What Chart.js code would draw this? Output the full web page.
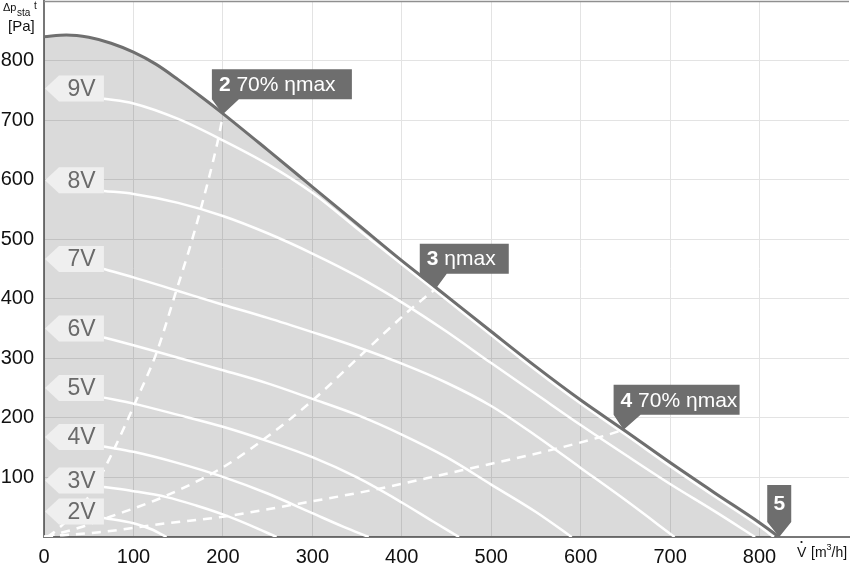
<!DOCTYPE html>
<html>
<head>
<meta charset="utf-8">
<script src="https://cdn.jsdelivr.net/npm/chart.js@4.4.1/dist/chart.umd.min.js"></script>
<style>
  html, body { margin: 0; padding: 0; background: #fff; }
  #wrap { width: 850px; height: 565px; position: relative; }
</style>
</head>
<body>
<div id="wrap"><canvas id="chart"></canvas></div>
<script>
// axis ranges / ticks
const xMax = 900;
const yMax = 900;
const xTickStep = 100;
const yTickStep = 100;

// max. characteristic (envelope), [V m3/h, dp Pa]
const envelope = [[0,840],[25,843],[50,839],[75,829],[100,814],[125,794],[150,768],[175,740],[200,711],[250,650],[300,588],[350,526],[400,464],[438,419],[500,345],[550,286],[600,230],[650,178],[700,125],[750,74],[800,24],[822,0]];

// control voltage curves
const curve9V = [[67,736],[100,728],[150,702],[200,666],[250,626],[300,578],[350,518],[400,458],[438,413],[500,339],[550,280],[600,224],[650,172],[700,119],[750,68],[800,18],[816,0]];
const curve8V = [[67,581],[100,576],[150,561],[200,539],[250,510],[300,476],[350,438],[400,394],[450,345],[500,292],[550,240],[600,188],[650,138],[700,89],[750,43],[795,0]];
const curve7V = [[67,450],[100,436],[150,413],[200,390],[250,368],[300,344],[350,319],[400,291],[450,259],[500,220],[550,170],[600,116],[650,62],[705,0]];
const curve6V = [[67,335],[100,322],[150,301],[200,280],[250,258],[300,232],[350,205],[400,172],[450,134],[500,88],[550,42],[590,0]];
const curve5V = [[67,234],[100,224],[150,205],[200,185],[250,161],[300,134],[350,100],[400,58],[435,26],[464,0]];
const curve4V = [[67,152],[100,143],[150,124],[200,101],[250,73],[300,40],[335,17],[363,0]];
const curve3V = [[67,84],[100,77],[137,67],[170,53],[200,38],[230,20],[260,0]];
const curve2V = [[67,32],[100,23],[120,13],[137,0]];

// efficiency lines (dashed)
const eta70Left = [[4,0],[16,14],[51,70],[74,134],[103,229],[126,310],[148,414],[161,476],[174,544],[194,663],[200,708]];
const etaMax = [[2,0],[40,16],[74,34],[133,67],[200,117],[244,162],[300,229],[352,302],[408,380],[438,417]];
const eta70Right = [[0,1],[62,8],[137,23],[200,34],[285,56],[371,80],[467,112],[564,145],[620,167],[648,180]];

// labels
const voltLabels = ['9V','8V','7V','6V','5V','4V','3V','2V'];
const voltLabelY = [753,599,467,350,250,168,95,43];
const markerNums = ['2','3','4','5'];
const markerTexts = [' 70% ηmax',' ηmax',' 70% ηmax',''];
const markerPoints = [[200,710],[438,417],[648,180],[822,0]];

const FONT = '"Liberation Sans", Arial, sans-serif';
const pts = a => a.map(([x, y]) => ({ x, y }));

const whiteLine = data => ({
  data: pts(data), borderColor: '#ffffff', borderWidth: 2.5,
  pointRadius: 0, fill: false, cubicInterpolationMode: 'monotone'
});
const dashLine = data => ({
  data: pts(data), borderColor: '#ffffff', borderWidth: 2.5, borderDash: [9, 7],
  pointRadius: 0, fill: false, cubicInterpolationMode: 'monotone'
});

const decor = {
  id: 'decor',
  beforeDatasetsDraw(chart) {
    const { ctx, chartArea: a } = chart;
    ctx.save();
    ctx.strokeStyle = '#8f8f8f';
    ctx.lineWidth = 1.5;
    ctx.beginPath();
    ctx.moveTo(a.left, a.top + 0.5);
    ctx.lineTo(a.right, a.top + 0.5);
    ctx.stroke();
    ctx.restore();
  },
  afterDatasetsDraw(chart) {
    const { ctx } = chart;
    const xs = chart.scales.x, ys = chart.scales.y;
    ctx.save();

    // voltage tags at the left axis
    voltLabels.forEach((t, i) => {
      const cy = ys.getPixelForValue(voltLabelY[i]);
      const tip = xs.getPixelForValue(0) + 1;
      const right = xs.getPixelForValue(67);
      const h = 26, arrow = 14;
      ctx.fillStyle = '#efefef';
      ctx.beginPath();
      ctx.moveTo(tip, cy);
      ctx.lineTo(tip + arrow, cy - h / 2);
      ctx.lineTo(right, cy - h / 2);
      ctx.lineTo(right, cy + h / 2);
      ctx.lineTo(tip + arrow, cy + h / 2);
      ctx.closePath();
      ctx.fill();
      ctx.fillStyle = '#6a6a6a';
      ctx.font = '23px ' + FONT;
      ctx.textAlign = 'center';
      ctx.textBaseline = 'middle';
      ctx.fillText(t, (tip + arrow + right) / 2, cy + 1);
    });

    // operating point callouts
    const boxW = [140, 89, 126];
    const boxOff = [11, 16, 10];
    markerNums.forEach((num, i) => {
      const tx = xs.getPixelForValue(markerPoints[i][0]);
      const ty = ys.getPixelForValue(markerPoints[i][1]);
      ctx.font = 'bold 21px ' + FONT;
      const wb = ctx.measureText(num).width;
      let left, top, w, h, bottom, textX;
      ctx.fillStyle = '#6e6e6e';
      ctx.beginPath();
      if (markerTexts[i] === '') {
        w = 24; h = 37;
        bottom = ty - 15; top = bottom - h; left = tx - w / 2;
        ctx.rect(left, top, w, h);
        ctx.moveTo(left, bottom);
        ctx.lineTo(left + w, bottom);
        ctx.lineTo(tx, ty);
        textX = left + (w - wb) / 2;
      } else {
        w = boxW[i]; h = 30;
        bottom = ty - 15; top = bottom - h; left = tx - boxOff[i];
        ctx.rect(left, top, w, h);
        ctx.moveTo(left, bottom);
        ctx.lineTo(left + 27, bottom);
        ctx.lineTo(tx, ty);
        textX = left + 7;
      }
      ctx.closePath();
      ctx.fill();
      ctx.fillStyle = '#ffffff';
      ctx.textBaseline = 'middle';
      ctx.textAlign = 'left';
      const cy = top + h / 2 + 1;
      ctx.font = 'bold 21px ' + FONT;
      ctx.fillText(num, textX, cy);
      ctx.font = '21px ' + FONT;
      ctx.fillText(markerTexts[i], textX + wb, cy);
    });
    ctx.restore();
  },
  afterDraw(chart) {
    const { ctx } = chart;
    ctx.save();
    ctx.fillStyle = '#111';
    ctx.textAlign = 'left';
    ctx.textBaseline = 'alphabetic';
    // y axis title: Δp_sta^t [Pa]
    ctx.font = '11px ' + FONT;
    ctx.fillText('Δp', 3, 11);
    ctx.font = '10px ' + FONT;
    ctx.fillText('sta', 17, 16);
    ctx.fillText('t', 34, 9);
    ctx.font = '15px ' + FONT;
    ctx.fillText('[Pa]', 8, 31);
    // x axis title: V̇ [m³/h]
    ctx.font = '14px ' + FONT;
    ctx.fillText('V', 797, 557);
    ctx.beginPath();
    ctx.arc(801.5, 542, 1.1, 0, Math.PI * 2);
    ctx.fill();
    ctx.fillText('[m', 811, 557);
    const wm = ctx.measureText('[m').width;
    ctx.font = '9px ' + FONT;
    ctx.fillText('3', 811 + wm, 550);
    ctx.font = '14px ' + FONT;
    ctx.fillText('/h]', 811 + wm + 5, 557);
    ctx.restore();
  }
};

new Chart(document.getElementById('chart'), {
  type: 'scatter',
  data: {
    datasets: [
      {
        data: pts(envelope), borderColor: '#6f6f6f', borderWidth: 3,
        pointRadius: 0, fill: 'origin', backgroundColor: 'rgba(0,0,0,0.145)',
        cubicInterpolationMode: 'monotone'
      },
      whiteLine(curve9V), whiteLine(curve8V), whiteLine(curve7V), whiteLine(curve6V),
      whiteLine(curve5V), whiteLine(curve4V), whiteLine(curve3V), whiteLine(curve2V),
      dashLine(eta70Left), dashLine(etaMax), dashLine(eta70Right)
    ].map(d => Object.assign({ showLine: true }, d))
  },
  options: {
    responsive: true,
    maintainAspectRatio: false,
    animation: false,
    layout: { padding: { top: 1, right: 1, left: 0, bottom: 0 } },
    plugins: {
      legend: { display: false },
      tooltip: { enabled: false },
      filler: { drawTime: 'beforeDatasetsDraw' }
    },
    scales: {
      x: {
        type: 'linear', min: 0, max: xMax,
        grid: { color: '#e3e3e3', lineWidth: 1, drawTicks: false },
        border: { color: '#777', width: 2 },
        ticks: {
          stepSize: xTickStep, padding: 8, color: '#111',
          font: { family: FONT, size: 20 },
          callback: v => (v <= 800 ? v : null)
        },
        afterFit: s => { s.height = 28; s.paddingLeft = 0; s.paddingRight = 0; }
      },
      y: {
        type: 'linear', min: 0, max: yMax,
        grid: { color: '#e3e3e3', lineWidth: 1, drawTicks: false },
        border: { color: '#777', width: 2 },
        ticks: {
          stepSize: yTickStep, padding: 10, color: '#111',
          font: { family: FONT, size: 20 },
          callback: v => (v >= 100 && v <= 800 ? v : null)
        },
        afterFit: s => { s.width = 44; s.paddingTop = 0; s.paddingBottom = 0; }
      }
    }
  },
  plugins: [decor]
});
</script>
</body>
</html>
